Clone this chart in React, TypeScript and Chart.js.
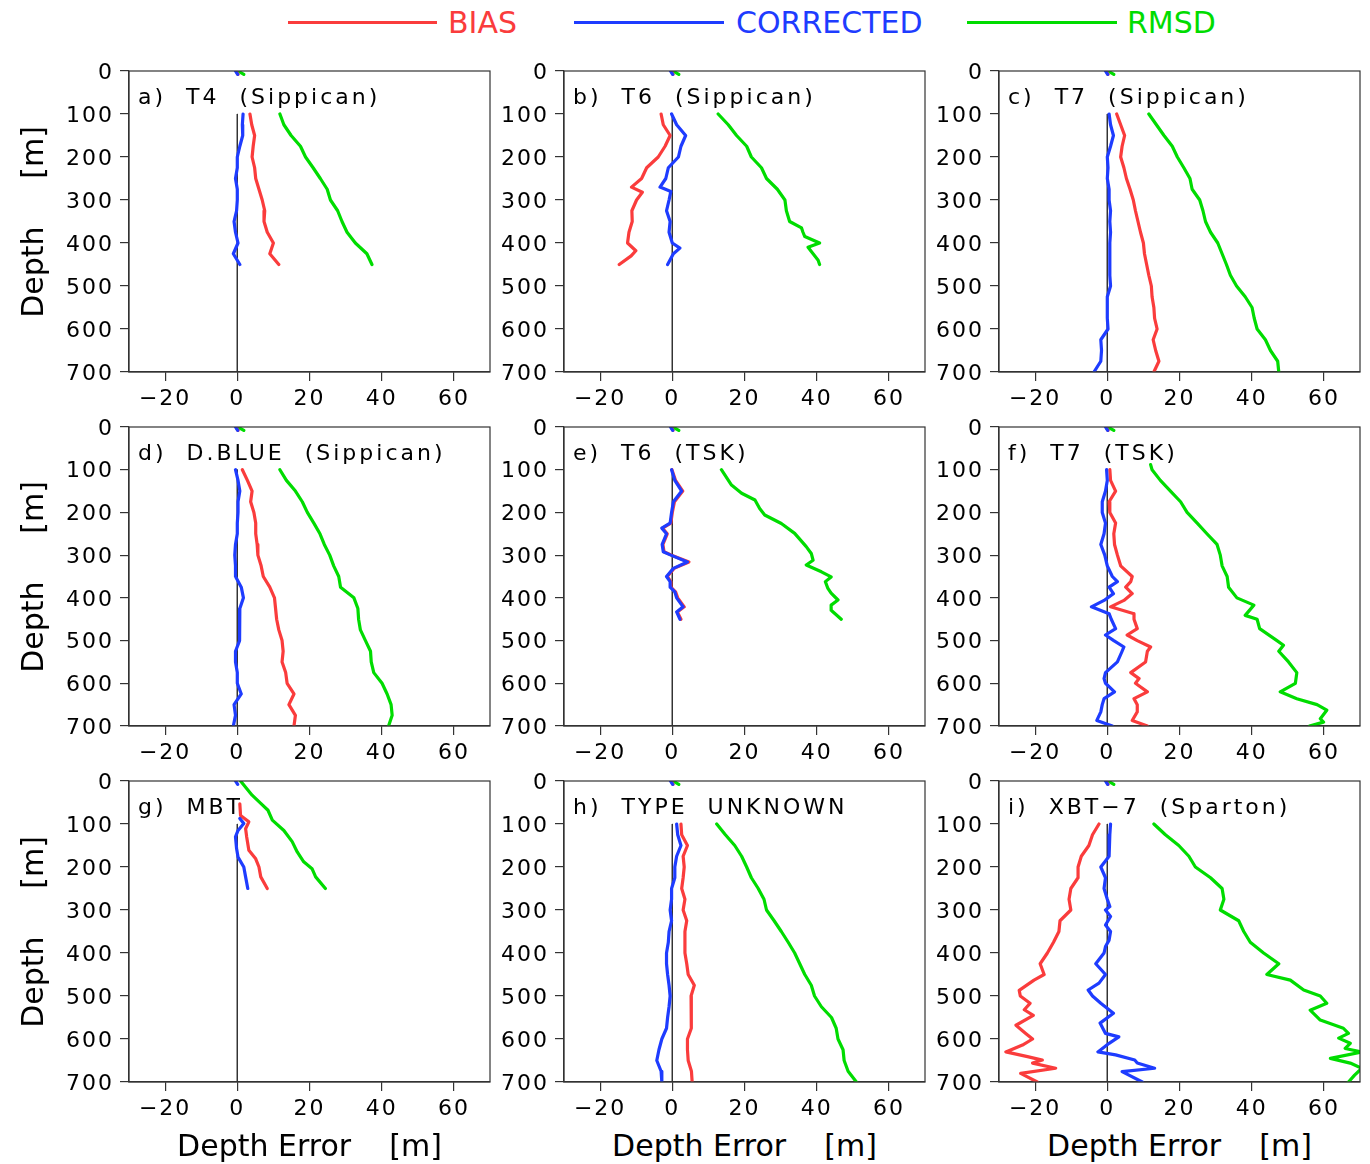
import React, { useEffect, useRef } from "react";
import { Chart, registerables } from "chart.js";
Chart.register(...registerables);

const FONT = "'DejaVu Sans', sans-serif";
const RED = "rgb(250,60,60)";
const BLUE = "rgb(30,60,255)";
const GREEN = "rgb(0,220,0)";

const SERIES_NAMES = ["BIAS", "CORRECTED", "RMSD"];
const X_TICKS = [-20, 0, 20, 40, 60];
const X_TICK_LABELS = ["\u221220", "0", "20", "40", "60"];
const Y_TICKS = [0, 100, 200, 300, 400, 500, 600, 700];
const X_MIN = -30;
const X_MAX = 70;
const Y_MIN = 0;
const Y_MAX = 700;
const ZERO_LINE_DEPTH = [100, 700];

const GRID_450 = [100, 125, 150, 175, 200, 225, 250, 275, 300, 325, 350, 375, 400, 425, 450];
const GRID_700 = [100, 125, 150, 175, 200, 225, 250, 275, 300, 325, 350, 375, 400, 425, 450, 475, 500, 525, 550, 575, 600, 625, 650, 675, 700];

// surface stubs (0 - 8 m), visible above panel labels
const STUB_DEPTH = [0, 8];
const STUB_BIAS = [-0.3, 0.2];
const STUB_CORR = [-0.5, 0.1];
const STUB_RMSD = [0.2, 1.8];

// a) T4 (Sippican)
const A_BIAS = [3.5, 4.0, 4.8, 4.4, 4.1, 4.8, 5.1, 6.0, 6.9, 7.6, 7.4, 8.3, 10.0, 9.0, 11.5];
const A_CORR = [1.6, 1.4, 1.5, 0.7, 0.0, 0.0, -0.5, 0.0, 0.0, -0.2, -0.9, -0.5, 0.2, -1.1, 0.7];
const A_RMSD = [11.8, 12.9, 14.9, 17.5, 18.9, 21.0, 23.0, 24.9, 25.8, 27.8, 29.0, 30.4, 32.7, 35.9, 37.3];

// b) T6 (Sippican)
const B_BIAS_D = [100, 125, 150, 175, 200, 225, 250, 270, 282, 300, 325, 350, 375, 400, 418, 430, 450];
const B_BIAS = [-3.1, -2.5, -0.6, -2.0, -3.9, -7.1, -8.5, -11.3, -8.3, -9.9, -11.2, -11.1, -12.0, -12.4, -10.1, -11.4, -14.7];
const B_CORR_D = [100, 125, 150, 175, 200, 225, 250, 270, 280, 300, 325, 350, 375, 400, 412, 425, 450];
const B_CORR = [-0.2, 1.2, 3.7, 2.4, 1.7, -1.1, -1.8, -3.4, -0.4, -0.9, -1.6, -0.6, -0.9, 0.0, 2.1, 0.3, -1.3];
const B_RMSD_D = [100, 125, 150, 175, 200, 225, 250, 275, 300, 325, 350, 365, 375, 385, 400, 410, 425, 440, 450];
const B_RMSD = [12.7, 15.5, 17.8, 20.6, 21.9, 24.7, 26.1, 29.1, 31.2, 31.6, 32.5, 35.8, 36.2, 36.7, 40.8, 37.6, 39.0, 40.4, 40.8];

// c) T7 (Sippican)
const C_BIAS = [2.6, 3.7, 4.8, 4.1, 3.7, 4.6, 5.3, 6.3, 7.2, 7.8, 8.5, 9.2, 10.0, 10.3, 10.9, 11.5, 12.2, 12.4, 12.9, 13.1, 13.8, 12.7, 13.4, 14.3, 12.9];
const C_CORR = [0.5, 0.9, 1.7, 0.9, 0.0, 0.2, 0.0, 0.5, 0.5, 0.9, 0.7, 0.9, 0.7, 0.7, 0.7, 0.7, 0.9, 0.0, 0.0, 0.0, 0.2, -1.8, -1.6, -1.8, -3.7];
const C_RMSD = [11.5, 13.6, 15.7, 18.0, 19.4, 21.2, 22.9, 23.5, 25.6, 26.5, 27.2, 28.6, 30.6, 31.8, 33.0, 34.1, 35.8, 38.2, 40.1, 40.7, 41.5, 43.8, 45.2, 47.2, 47.5];

// d) D.BLUE (Sippican)
const D_BIAS = [1.4, 2.8, 4.1, 3.7, 4.6, 5.1, 5.1, 5.5, 5.7, 6.6, 7.2, 9.0, 10.3, 10.6, 10.9, 11.5, 12.4, 12.7, 12.4, 13.4, 13.8, 15.7, 14.3, 16.1, 15.7];
const D_CORR = [-0.5, 0.2, 0.7, 0.2, 0.2, 0.0, 0.0, -0.5, -0.7, -0.5, -0.5, 1.1, 1.7, 0.7, 0.7, 0.5, 0.7, -0.5, -0.5, 0.0, 0.0, 1.1, -0.9, -0.5, -1.1];
const D_RMSD = [11.8, 13.6, 16.1, 18.0, 19.4, 21.2, 22.9, 24.1, 25.6, 26.7, 28.1, 28.6, 32.3, 33.4, 33.6, 34.1, 35.5, 36.9, 37.1, 37.8, 40.1, 41.5, 42.6, 42.9, 41.9];

// e) T6 (TSK)
const E_D = [100, 125, 150, 175, 200, 225, 237, 250, 275, 292, 300, 316, 331, 350, 362, 375, 386, 400, 421, 433, 450];
const E_BIAS = [-0.1, 0.9, 2.9, 0.6, 0.0, -0.4, -2.7, -1.4, -2.6, -2.3, -0.2, 4.6, 0.5, -1.4, -0.4, -0.4, 0.9, 1.5, 3.3, 1.4, 2.4];
const E_CORR = [-0.2, 0.7, 2.6, 0.3, -0.2, -0.6, -2.9, -1.6, -2.8, -2.5, -0.4, 4.2, 0.3, -1.6, -0.6, -0.6, 0.7, 1.2, 3.0, 1.2, 2.1];
const E_RMSD_D = [100, 136, 155, 171, 191, 206, 226, 249, 280, 296, 312, 323, 339, 351, 362, 378, 389, 405, 417, 429, 450];
const E_RMSD = [13.6, 16.4, 19.2, 22.9, 24.2, 25.6, 30.2, 33.9, 37.1, 38.5, 39.0, 37.1, 41.3, 44.0, 42.4, 43.1, 44.0, 45.9, 44.0, 44.0, 46.8];

// f) T7 (TSK)
const F_D = [100, 125, 150, 175, 200, 225, 250, 275, 300, 325, 350, 362, 375, 390, 406, 421, 437, 450, 472, 487, 500, 515, 525, 550, 575, 589, 600, 620, 636, 650, 667, 687, 700];
const F_BIAS = [0.7, 0.9, 2.3, 0.5, 0.7, 2.3, 1.8, 2.0, 2.8, 3.7, 6.9, 6.5, 5.1, 6.9, 4.6, 0.9, 7.4, 7.4, 8.3, 5.5, 8.3, 12.0, 11.1, 10.6, 6.5, 8.8, 7.8, 11.1, 7.4, 8.3, 8.3, 6.9, 11.1];
const F_CORR = [-0.2, 0.0, -0.5, -1.4, -1.4, -0.5, -0.9, -1.8, -0.7, 0.0, 1.4, 2.8, 0.5, 1.7, -0.9, -4.4, 0.5, 1.1, 2.3, -0.5, 1.8, 4.6, 4.1, 2.8, -0.5, -0.9, -0.5, 2.0, -0.9, -1.4, -1.8, -2.9, 1.4];
const F_RMSD_D = [88, 100, 125, 150, 175, 200, 225, 250, 275, 300, 325, 350, 375, 400, 417, 441, 450, 472, 500, 511, 525, 550, 575, 600, 620, 636, 650, 663, 683, 691, 700];
const F_RMSD = [12.0, 12.4, 14.7, 17.5, 20.3, 22.1, 24.9, 27.6, 30.4, 31.3, 31.8, 33.2, 33.6, 35.9, 40.6, 38.2, 41.5, 42.2, 47.0, 48.8, 47.5, 50.2, 52.5, 52.1, 47.9, 52.5, 58.1, 60.8, 59.0, 59.9, 56.0];

// g) MBT
const G_BIAS_D = [53, 80, 95, 111, 130, 161, 181, 200, 223, 250];
const G_BIAS = [0.7, 0.9, 3.2, 2.3, 2.6, 3.2, 5.1, 6.0, 6.5, 8.3];
const G_CORR_D = [87, 99, 115, 130, 157, 177, 200, 223, 250];
const G_CORR = [0.7, 1.8, 0.2, -0.5, -0.2, 0.2, 1.8, 2.3, 2.9];
const G_RMSD_D = [0, 33, 52, 68, 91, 115, 141, 165, 188, 204, 223, 250];
const G_RMSD = [0.9, 4.1, 6.5, 8.5, 9.7, 12.9, 15.2, 16.6, 18.4, 20.7, 21.7, 24.4];

// h) TYPE UNKNOWN
const H_BIAS = [2.4, 2.6, 4.2, 3.0, 3.3, 3.0, 2.6, 3.5, 3.0, 4.0, 3.5, 3.5, 3.5, 4.0, 4.4, 6.1, 5.2, 5.3, 5.2, 5.3, 4.2, 4.2, 4.4, 5.3, 5.5];
const H_CORR = [1.2, 1.5, 2.4, 1.2, 0.7, 0.7, -0.2, -0.2, -0.6, -0.2, -0.9, -1.1, -1.6, -1.6, -1.3, -0.9, -0.6, -0.9, -1.3, -1.6, -2.9, -3.7, -4.3, -3.1, -2.9];
const H_RMSD = [12.3, 14.7, 17.3, 19.2, 20.6, 21.9, 23.8, 25.4, 26.1, 28.2, 30.2, 32.1, 33.9, 35.3, 36.7, 38.5, 39.4, 41.3, 44.1, 45.4, 45.9, 47.3, 47.6, 48.7, 51.0];

// i) XBT-7 (Sparton)
const I_BIAS_D = [100, 125, 150, 175, 200, 225, 250, 275, 300, 325, 350, 375, 400, 425, 450, 463, 487, 500, 517, 532, 545, 568, 587, 600, 614, 630, 641, 649, 656, 668, 680, 700];
const I_BIAS = [-2.3, -4.1, -5.1, -7.2, -8.1, -8.1, -10.1, -10.6, -10.1, -13.1, -13.4, -14.9, -16.6, -18.6, -17.5, -20.3, -24.4, -24.1, -21.4, -23.0, -20.5, -25.3, -22.6, -20.7, -23.5, -28.1, -22.1, -18.0, -20.7, -14.3, -24.0, -19.4];
const I_CORR_D = [100, 125, 150, 175, 200, 225, 250, 275, 292, 300, 315, 335, 350, 370, 385, 400, 425, 450, 470, 486, 500, 517, 540, 563, 587, 595, 610, 630, 637, 649, 656, 668, 676, 700];
const I_CORR = [0.9, 0.7, 0.5, 0.5, -1.8, -0.5, -0.9, 0.0, 0.7, -0.5, 0.9, -0.5, 0.9, 0.5, -0.5, -0.9, -3.2, -0.5, -2.3, -5.3, -4.1, -1.8, 1.7, -2.0, -0.5, 3.2, 0.5, -2.6, 2.3, 7.6, 8.3, 13.1, 4.1, 9.7];
const I_RMSD_D = [100, 125, 150, 175, 200, 225, 250, 275, 300, 325, 350, 375, 400, 425, 450, 463, 486, 500, 517, 533, 556, 575, 587, 598, 610, 622, 630, 645, 656, 668, 684, 700];
const I_RMSD = [12.9, 16.1, 19.8, 22.6, 24.4, 28.6, 31.8, 32.3, 31.3, 36.4, 37.8, 39.6, 43.3, 47.5, 44.2, 50.7, 54.4, 59.0, 60.8, 56.2, 59.0, 65.4, 66.8, 64.1, 67.3, 65.9, 70.5, 61.8, 67.3, 70.5, 68.5, 66.8];

type Pt = { x: number | null; y: number };
type Series = { d: number[]; v: number[]; stub?: [number[], number[]] };
type PanelDef = { title: string; bias: Series; corr: Series; rmsd: Series };

const PANELS: PanelDef[] = [
  { title: "a)  T4  (Sippican)", bias: { d: GRID_450, v: A_BIAS, stub: [STUB_DEPTH, STUB_BIAS] }, corr: { d: GRID_450, v: A_CORR, stub: [STUB_DEPTH, STUB_CORR] }, rmsd: { d: GRID_450, v: A_RMSD, stub: [STUB_DEPTH, STUB_RMSD] } },
  { title: "b)  T6  (Sippican)", bias: { d: B_BIAS_D, v: B_BIAS, stub: [STUB_DEPTH, STUB_BIAS] }, corr: { d: B_CORR_D, v: B_CORR, stub: [STUB_DEPTH, STUB_CORR] }, rmsd: { d: B_RMSD_D, v: B_RMSD, stub: [STUB_DEPTH, STUB_RMSD] } },
  { title: "c)  T7  (Sippican)", bias: { d: GRID_700, v: C_BIAS, stub: [STUB_DEPTH, STUB_BIAS] }, corr: { d: GRID_700, v: C_CORR, stub: [STUB_DEPTH, STUB_CORR] }, rmsd: { d: GRID_700, v: C_RMSD, stub: [STUB_DEPTH, STUB_RMSD] } },
  { title: "d)  D.BLUE  (Sippican)", bias: { d: GRID_700, v: D_BIAS, stub: [STUB_DEPTH, STUB_BIAS] }, corr: { d: GRID_700, v: D_CORR, stub: [STUB_DEPTH, STUB_CORR] }, rmsd: { d: GRID_700, v: D_RMSD, stub: [STUB_DEPTH, STUB_RMSD] } },
  { title: "e)  T6  (TSK)", bias: { d: E_D, v: E_BIAS, stub: [STUB_DEPTH, STUB_BIAS] }, corr: { d: E_D, v: E_CORR, stub: [STUB_DEPTH, STUB_CORR] }, rmsd: { d: E_RMSD_D, v: E_RMSD, stub: [STUB_DEPTH, STUB_RMSD] } },
  { title: "f)  T7  (TSK)", bias: { d: F_D, v: F_BIAS, stub: [STUB_DEPTH, STUB_BIAS] }, corr: { d: F_D, v: F_CORR, stub: [STUB_DEPTH, STUB_CORR] }, rmsd: { d: F_RMSD_D, v: F_RMSD, stub: [STUB_DEPTH, STUB_RMSD] } },
  { title: "g)  MBT", bias: { d: G_BIAS_D, v: G_BIAS }, corr: { d: G_CORR_D, v: G_CORR, stub: [STUB_DEPTH, STUB_CORR] }, rmsd: { d: G_RMSD_D, v: G_RMSD } },
  { title: "h)  TYPE  UNKNOWN", bias: { d: GRID_700, v: H_BIAS, stub: [STUB_DEPTH, STUB_BIAS] }, corr: { d: GRID_700, v: H_CORR, stub: [STUB_DEPTH, STUB_CORR] }, rmsd: { d: GRID_700, v: H_RMSD, stub: [STUB_DEPTH, STUB_RMSD] } },
  { title: "i)  XBT\u22127  (Sparton)", bias: { d: I_BIAS_D, v: I_BIAS, stub: [STUB_DEPTH, STUB_BIAS] }, corr: { d: I_CORR_D, v: I_CORR, stub: [STUB_DEPTH, STUB_CORR] }, rmsd: { d: I_RMSD_D, v: I_RMSD, stub: [STUB_DEPTH, STUB_RMSD] } },
];

// layout (pixels)
const COL_LEFTS = [129, 564, 999];
const ROW_TOPS = [71, 427, 781];
const ROW_HEIGHTS = [301, 299, 301];
const PLOT_W = 361;
const PAD_L = 125;
const PAD_T = 20;
const PAD_R = 8;
const PAD_B = 40;
const LETTER_SP = "2px";
const TITLE_LETTER_SP = "3px";

function buildPoints(s: Series): Pt[] {
  const main: Pt[] = s.d.map((y, i) => ({ x: s.v[i], y }));
  if (!s.stub) return main;
  const [sd, sv] = s.stub;
  const stub: Pt[] = sd.map((y, i) => ({ x: sv[i], y }));
  const gapY = (sd[sd.length - 1] + s.d[0]) / 2;
  return [...stub, { x: null, y: gapY }, ...main];
}

const decoPlugin = {
  id: "panelDeco",
  beforeDraw(chart: any) {
    chart.ctx.letterSpacing = LETTER_SP;
  },
  afterDraw(chart: any) {
    const ctx = chart.ctx;
    const a = chart.chartArea;
    const title = chart.options.plugins.panelDeco.title;
    ctx.save();
    ctx.letterSpacing = TITLE_LETTER_SP;
    ctx.font = `22px ${FONT}`;
    ctx.fillStyle = "#000";
    ctx.textAlign = "left";
    ctx.textBaseline = "middle";
    ctx.fillText(title, a.left + 9, a.top + 27);
    ctx.strokeStyle = "#333";
    ctx.lineWidth = 1.2;
    ctx.strokeRect(a.left, a.top, a.right - a.left, a.bottom - a.top);
    ctx.restore();
  },
};

function Panel({ p, col, row }: { p: PanelDef; col: number; row: number }) {
  const ref = useRef<HTMLCanvasElement>(null);
  const w = PAD_L + PLOT_W + PAD_R;
  const h = PAD_T + ROW_HEIGHTS[row] + PAD_B;
  useEffect(() => {
    if (!ref.current) return;
    const line = (label: string, data: Pt[], color: string, width: number) => ({
      label,
      data,
      borderColor: color,
      backgroundColor: color,
      borderWidth: width,
      pointRadius: 0,
      tension: 0,
      spanGaps: false,
      clip: 0,
      borderJoinStyle: "round" as const,
      borderCapStyle: "round" as const,
    });
    const tickFont = { family: FONT, size: 22 };
    const chart = new Chart(ref.current, {
      type: "line",
      data: {
        datasets: [
          line(SERIES_NAMES[1], buildPoints(p.corr), BLUE, 3.2),
          line(SERIES_NAMES[0], buildPoints(p.bias), RED, 3.2),
          line(SERIES_NAMES[2], buildPoints(p.rmsd), GREEN, 3.2),
          line("zero", ZERO_LINE_DEPTH.map((y) => ({ x: 0, y })), "#333", 1),
        ],
      },
      options: {
        animation: false,
        responsive: false,
        indexAxis: "y",
        events: [],
        layout: { padding: { top: PAD_T, right: PAD_R, left: 0, bottom: 0 } },
        plugins: {
          legend: { display: false },
          tooltip: { enabled: false },
          title: { display: false },
          panelDeco: { title: p.title },
        } as any,
        scales: {
          x: {
            type: "linear",
            position: "bottom",
            min: X_MIN,
            max: X_MAX,
            afterBuildTicks: (s: any) => {
              s.ticks = X_TICKS.map((v) => ({ value: v }));
            },
            afterFit: (s: any) => {
              s.height = PAD_B;
            },
            ticks: {
              font: tickFont,
              color: "#000",
              padding: 5,
              maxRotation: 0,
              autoSkip: false,
              callback: (_v: any, i: number) => X_TICK_LABELS[i],
            },
            grid: { display: true, drawOnChartArea: false, drawTicks: true, tickLength: 9, color: "#333", lineWidth: 1.2 },
            border: { display: true, color: "#333", width: 1.2 },
          },
          y: {
            type: "linear",
            position: "left",
            reverse: true,
            min: Y_MIN,
            max: Y_MAX,
            afterBuildTicks: (s: any) => {
              s.ticks = Y_TICKS.map((v) => ({ value: v }));
            },
            afterFit: (s: any) => {
              s.width = PAD_L;
            },
            ticks: {
              font: tickFont,
              color: "#000",
              padding: 6,
              labelOffset: 2,
              autoSkip: false,
              callback: (_v: any, i: number) => String(Y_TICKS[i]),
            },
            grid: { display: true, drawOnChartArea: false, drawTicks: true, tickLength: 9, color: "#333", lineWidth: 1.2 },
            border: { display: true, color: "#333", width: 1.2 },
          },
        },
      } as any,
      plugins: [decoPlugin],
    });
    return () => chart.destroy();
  }, [p, row]);
  return (
    <canvas
      ref={ref}
      width={w}
      height={h}
      style={{ position: "absolute", left: COL_LEFTS[col] - PAD_L, top: ROW_TOPS[row] - PAD_T, width: w, height: h }}
    />
  );
}

const LEGEND = [
  { name: SERIES_NAMES[0], color: RED, lineL: 288, lineR: 437, textL: 448 },
  { name: SERIES_NAMES[1], color: BLUE, lineL: 574, lineR: 724, textL: 736 },
  { name: SERIES_NAMES[2], color: GREEN, lineL: 967, lineR: 1117, textL: 1127 },
];
const LEGEND_Y = 22;

export default function App() {
  return (
    <div style={{ position: "absolute", left: 0, top: 0, width: 1370, height: 1164, background: "#fff", overflow: "hidden", fontFamily: FONT }}>
      {LEGEND.map((l) => (
        <React.Fragment key={l.name}>
          <div style={{ position: "absolute", left: l.lineL, top: LEGEND_Y - 1.5, width: l.lineR - l.lineL, height: 3, background: l.color }} />
          <div style={{ position: "absolute", left: l.textL, top: LEGEND_Y - 14.5, fontSize: 30, lineHeight: "30px", color: l.color, whiteSpace: "pre" }}>{l.name}</div>
        </React.Fragment>
      ))}
      {PANELS.map((p, i) => (
        <Panel key={i} p={p} col={i % 3} row={Math.floor(i / 3)} />
      ))}
      {ROW_TOPS.map((t, r) => (
        <div
          key={"yt" + r}
          style={{
            position: "absolute",
            left: 33,
            top: t + ROW_HEIGHTS[r] / 2,
            transform: "translate(-50%,-50%) rotate(-90deg)",
            fontSize: 30,
            lineHeight: "30px",
            whiteSpace: "pre",
            color: "#000",
          }}
        >
          {"Depth     [m]"}
        </div>
      ))}
      {COL_LEFTS.map((x, c) => (
        <div
          key={"xt" + c}
          style={{ position: "absolute", left: x, width: PLOT_W, top: 1145 - 14.5, textAlign: "center", fontSize: 30, lineHeight: "30px", whiteSpace: "pre", color: "#000" }}
        >
          {"Depth Error    [m]"}
        </div>
      ))}
    </div>
  );
}
